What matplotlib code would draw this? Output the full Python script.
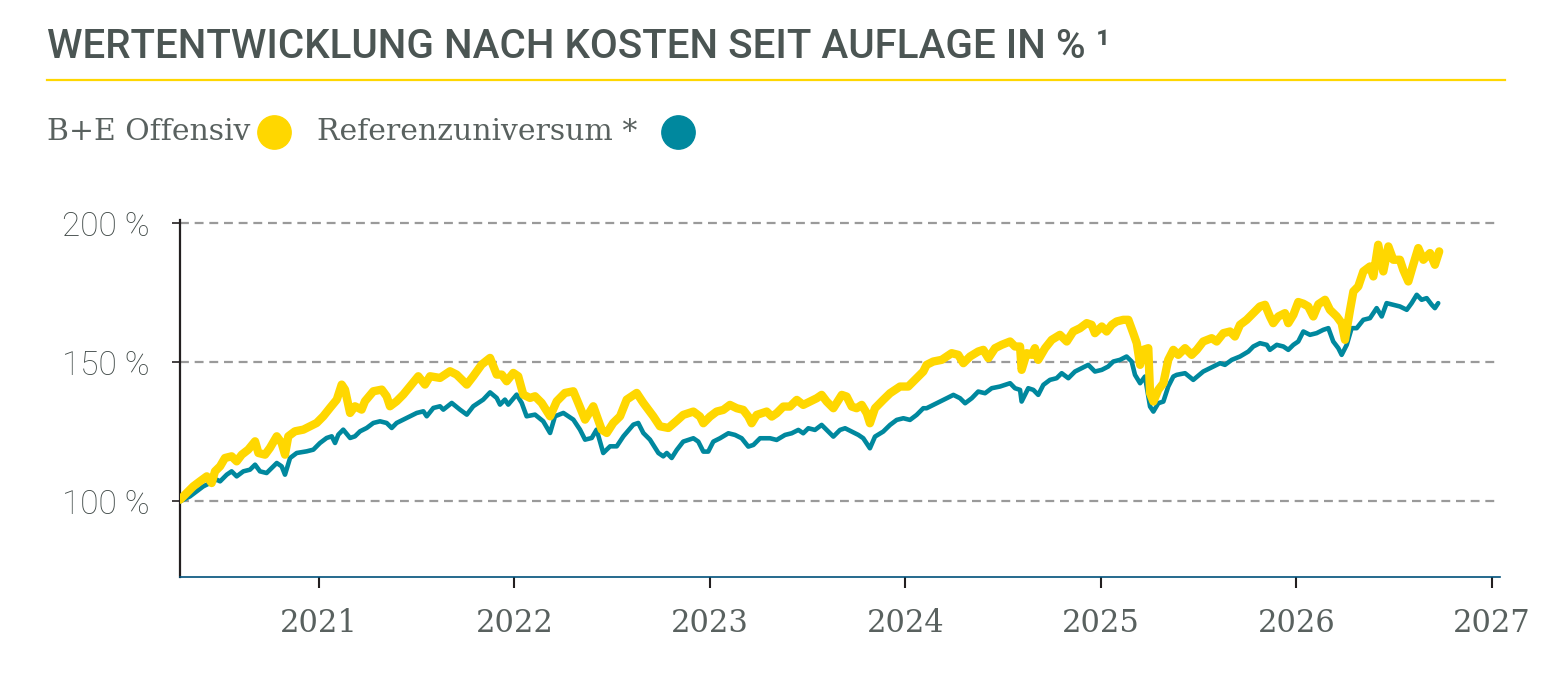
import matplotlib
matplotlib.use("Agg")
import matplotlib.pyplot as plt
from matplotlib.lines import Line2D

# ---------------------------------------------------------------------------
# Data (decimal years / index in %)
# ---------------------------------------------------------------------------

TITLE = "WERTENTWICKLUNG NACH KOSTEN SEIT AUFLAGE IN % \u00b9"
LABEL_BE = "B+E Offensiv"
LABEL_REF = "Referenzuniversum *"

YEARS_BE = [
    2020.289, 2020.323, 2020.357, 2020.391, 2020.426, 2020.451, 2020.468, 2020.494, 2020.519, 2020.553,
    2020.579, 2020.605, 2020.638, 2020.673, 2020.690, 2020.724, 2020.749, 2020.784, 2020.809, 2020.826,
    2020.843, 2020.877, 2020.920, 2020.954, 2020.988, 2021.022, 2021.056, 2021.091, 2021.116, 2021.133,
    2021.159, 2021.184, 2021.218, 2021.235, 2021.278, 2021.321, 2021.346, 2021.363, 2021.397, 2021.431,
    2021.466, 2021.508, 2021.542, 2021.568, 2021.619, 2021.670, 2021.704, 2021.756, 2021.789, 2021.832,
    2021.875, 2021.909, 2021.935, 2021.960, 2021.994, 2022.019, 2022.045, 2022.079, 2022.105, 2022.139,
    2022.182, 2022.216, 2022.258, 2022.301, 2022.326, 2022.361, 2022.403, 2022.446, 2022.472, 2022.505,
    2022.540, 2022.574, 2022.625, 2022.659, 2022.710, 2022.744, 2022.787, 2022.830, 2022.863, 2022.915,
    2022.949, 2022.966, 2023.000, 2023.034, 2023.068, 2023.102, 2023.137, 2023.170, 2023.196, 2023.213,
    2023.239, 2023.290, 2023.316, 2023.341, 2023.375, 2023.409, 2023.444, 2023.477, 2023.512, 2023.546,
    2023.571, 2023.597, 2023.631, 2023.674, 2023.699, 2023.725, 2023.750, 2023.776, 2023.802, 2023.818,
    2023.844, 2023.886, 2023.921, 2023.972, 2024.014, 2024.057, 2024.091, 2024.108, 2024.142, 2024.185,
    2024.211, 2024.236, 2024.270, 2024.296, 2024.330, 2024.372, 2024.398, 2024.424, 2024.458, 2024.492,
    2024.535, 2024.560, 2024.586, 2024.594, 2024.620, 2024.646, 2024.662, 2024.679, 2024.714, 2024.748,
    2024.790, 2024.825, 2024.858, 2024.893, 2024.927, 2024.952, 2024.969, 2025.004, 2025.029, 2025.055,
    2025.080, 2025.114, 2025.140, 2025.165, 2025.183, 2025.200, 2025.216, 2025.242, 2025.251, 2025.268,
    2025.293, 2025.319, 2025.344, 2025.370, 2025.395, 2025.430, 2025.464, 2025.490, 2025.523, 2025.566,
    2025.592, 2025.626, 2025.660, 2025.685, 2025.711, 2025.745, 2025.779, 2025.813, 2025.839, 2025.864,
    2025.881, 2025.907, 2025.941, 2025.958, 2025.984, 2026.009, 2026.035, 2026.060, 2026.086, 2026.112,
    2026.146, 2026.171, 2026.206, 2026.231, 2026.248, 2026.274, 2026.291, 2026.316, 2026.342, 2026.376,
    2026.393, 2026.418, 2026.444, 2026.470, 2026.495, 2026.529, 2026.546, 2026.572, 2026.597, 2026.623,
    2026.649, 2026.683, 2026.708, 2026.730,
]
VALUES_BE = [
    100.6, 103.0, 105.4, 107.2, 109.0, 106.6, 110.8, 112.6, 115.6, 116.2,
    114.4, 116.8, 118.6, 121.6, 117.4, 116.8, 119.2, 123.4, 121.0, 116.8,
    123.4, 125.2, 125.8, 127.0, 128.2, 130.6, 133.6, 136.6, 142.0, 140.2,
    131.8, 134.2, 133.0, 136.0, 139.6, 140.2, 137.8, 134.2, 136.0, 138.4,
    141.4, 145.0, 142.0, 145.0, 144.4, 146.8, 145.6, 142.0, 145.0, 149.2,
    151.6, 145.6, 145.6, 143.2, 146.2, 145.0, 138.4, 137.2, 137.8, 135.4,
    130.6, 136.0, 139.0, 139.6, 135.4, 129.4, 134.2, 125.8, 124.6, 128.2,
    130.6, 136.6, 139.0, 135.4, 130.6, 127.0, 126.4, 129.0, 131.1, 132.3,
    130.5, 128.1, 130.5, 132.3, 132.9, 134.7, 133.5, 132.9, 130.5, 128.1,
    131.1, 132.3, 130.5, 131.7, 134.1, 134.1, 136.5, 134.7, 135.9, 137.1,
    138.3, 135.9, 133.5, 138.3, 137.7, 134.1, 133.5, 134.7, 131.7, 128.1,
    133.5, 136.5, 138.9, 141.3, 141.3, 144.3, 146.7, 149.1, 150.3, 150.9,
    152.1, 153.3, 152.7, 149.7, 152.1, 153.9, 154.5, 151.5, 155.1, 156.3,
    157.5, 155.7, 155.7, 147.3, 153.3, 152.7, 155.1, 150.9, 155.1, 158.1,
    159.9, 157.5, 161.1, 162.3, 164.1, 163.5, 160.5, 162.9, 161.1, 163.5,
    164.7, 165.3, 165.3, 160.5, 156.9, 149.1, 154.5, 155.1, 138.9, 135.9,
    140.1, 142.5, 150.9, 154.5, 152.7, 155.1, 152.7, 154.5, 157.5, 158.7,
    157.5, 160.5, 161.1, 159.3, 163.5, 165.3, 167.7, 170.1, 170.7, 166.5,
    164.1, 166.5, 167.7, 164.1, 167.1, 171.7, 171.1, 170.1, 166.5, 170.9,
    172.5, 168.9, 166.5, 164.1, 158.1, 168.9, 175.5, 177.3, 182.7, 184.5,
    180.9, 192.3, 182.7, 191.7, 186.9, 186.9, 183.3, 179.1, 185.1, 191.1,
    186.9, 189.3, 185.1, 189.9,
]

YEARS_REF = [
    2020.289, 2020.340, 2020.374, 2020.408, 2020.442, 2020.477, 2020.494, 2020.528, 2020.553, 2020.579,
    2020.613, 2020.647, 2020.673, 2020.698, 2020.732, 2020.758, 2020.784, 2020.809, 2020.826, 2020.852,
    2020.886, 2020.937, 2020.971, 2021.005, 2021.039, 2021.065, 2021.082, 2021.099, 2021.124, 2021.159,
    2021.184, 2021.210, 2021.244, 2021.278, 2021.312, 2021.346, 2021.372, 2021.397, 2021.431, 2021.466,
    2021.500, 2021.534, 2021.551, 2021.585, 2021.619, 2021.636, 2021.679, 2021.721, 2021.756, 2021.789,
    2021.840, 2021.875, 2021.909, 2021.926, 2021.951, 2021.968, 2022.011, 2022.037, 2022.062, 2022.105,
    2022.147, 2022.182, 2022.207, 2022.250, 2022.301, 2022.335, 2022.361, 2022.395, 2022.420, 2022.454,
    2022.489, 2022.523, 2022.557, 2022.608, 2022.633, 2022.659, 2022.693, 2022.736, 2022.761, 2022.779,
    2022.804, 2022.830, 2022.863, 2022.915, 2022.940, 2022.966, 2022.991, 2023.017, 2023.051, 2023.094,
    2023.128, 2023.162, 2023.196, 2023.222, 2023.256, 2023.307, 2023.341, 2023.384, 2023.418, 2023.452,
    2023.477, 2023.503, 2023.537, 2023.571, 2023.597, 2023.631, 2023.665, 2023.691, 2023.725, 2023.759,
    2023.784, 2023.818, 2023.844, 2023.886, 2023.921, 2023.955, 2023.989, 2024.023, 2024.057, 2024.091,
    2024.108, 2024.160, 2024.211, 2024.245, 2024.279, 2024.305, 2024.339, 2024.372, 2024.407, 2024.441,
    2024.483, 2024.535, 2024.560, 2024.586, 2024.594, 2024.628, 2024.654, 2024.679, 2024.705, 2024.739,
    2024.773, 2024.799, 2024.833, 2024.867, 2024.901, 2024.935, 2024.969, 2025.004, 2025.037, 2025.063,
    2025.097, 2025.131, 2025.157, 2025.174, 2025.200, 2025.225, 2025.251, 2025.268, 2025.293, 2025.319,
    2025.344, 2025.370, 2025.387, 2025.430, 2025.472, 2025.523, 2025.574, 2025.609, 2025.634, 2025.669,
    2025.711, 2025.754, 2025.779, 2025.813, 2025.848, 2025.864, 2025.899, 2025.933, 2025.958, 2025.984,
    2026.009, 2026.035, 2026.069, 2026.103, 2026.137, 2026.163, 2026.188, 2026.214, 2026.231, 2026.257,
    2026.282, 2026.308, 2026.342, 2026.376, 2026.410, 2026.436, 2026.461, 2026.495, 2026.529, 2026.564,
    2026.589, 2026.615, 2026.640, 2026.666, 2026.692, 2026.708, 2026.725,
]
VALUES_REF = [
    100.0, 101.8, 103.6, 105.4, 106.6, 107.8, 107.2, 109.6, 110.8, 109.0,
    110.8, 111.4, 113.2, 110.8, 110.2, 112.0, 113.8, 112.6, 109.6, 115.6,
    117.4, 118.0, 118.6, 121.0, 122.8, 123.4, 121.0, 124.0, 125.8, 122.8,
    123.4, 125.2, 126.4, 128.2, 128.8, 128.2, 126.4, 128.2, 129.4, 130.6,
    131.8, 132.4, 130.6, 133.6, 134.2, 133.0, 135.4, 133.0, 131.2, 134.2,
    136.6, 139.2, 137.2, 134.8, 136.6, 134.8, 138.4, 135.4, 130.6, 131.2,
    128.8, 124.6, 130.6, 131.8, 129.4, 125.8, 122.2, 122.8, 125.8, 117.4,
    119.8, 119.8, 123.4, 127.6, 128.2, 124.6, 122.2, 117.4, 116.2, 117.4,
    115.6, 118.5, 121.5, 122.7, 121.5, 117.9, 117.9, 121.5, 122.7, 124.5,
    123.9, 122.7, 119.7, 120.3, 122.7, 122.7, 122.1, 123.9, 124.5, 125.7,
    124.5, 126.3, 125.7, 127.5, 125.7, 123.3, 125.7, 126.3, 125.1, 123.9,
    122.7, 119.1, 123.3, 125.1, 127.5, 129.3, 129.9, 129.3, 131.1, 133.5,
    133.5, 135.3, 137.1, 138.3, 137.1, 135.3, 137.1, 139.5, 138.9, 140.7,
    141.3, 142.5, 140.7, 140.1, 135.9, 140.7, 140.1, 138.3, 141.9, 143.7,
    144.3, 146.1, 144.3, 146.7, 147.9, 149.1, 146.7, 147.3, 148.5, 150.3,
    150.9, 152.1, 150.3, 145.5, 142.5, 144.9, 134.1, 132.3, 135.3, 135.9,
    141.3, 144.9, 145.5, 146.1, 143.7, 146.7, 148.5, 149.7, 149.1, 150.9,
    152.1, 153.9, 155.7, 156.9, 156.3, 154.5, 156.3, 155.7, 154.5, 156.3,
    157.5, 161.1, 159.9, 160.5, 161.7, 162.3, 157.5, 155.1, 152.7, 156.3,
    162.3, 162.3, 165.3, 165.9, 169.5, 166.5, 171.3, 170.7, 170.1, 168.9,
    171.3, 174.3, 172.5, 173.1, 170.7, 169.5, 171.3,
]

Y_TICKS = [100, 150, 200]
Y_TICK_LABELS = ["100 %", "150 %", "200 %"]
X_TICKS = [2021, 2022, 2023, 2024, 2025, 2026, 2027]

# ---------------------------------------------------------------------------
# Style
# ---------------------------------------------------------------------------

W, H = 1560, 680
YELLOW = "#FFD700"
TEAL = "#00889E"
TEXT_GREY = "#4B5553"
LABEL_GREY = "#59615F"
GRID_GREY = "#9A9A9A"

fig = plt.figure(figsize=(W / 100, H / 100), dpi=100)
fig.patch.set_facecolor("white")
renderer = fig.canvas.get_renderer()

# title + yellow rule
title = fig.text(47 / W, 1 - 58 / H, TITLE, family="Roboto", weight="medium",
                 fontsize=30, color=TEXT_GREY, va="baseline", ha="left")
bb = title.get_window_extent(renderer)
title.set_fontsize(30 * (1063 / bb.width))
fig.add_artist(Line2D([47 / W, 1505 / W], [1 - 80 / H, 1 - 80 / H],
                      transform=fig.transFigure, color=YELLOW, lw=1.6))

# legend (manual): label text + round swatch
leg_y = 1 - 132 / H
for label, color, text_px, dot_px in [(LABEL_BE, YELLOW, 47, 274),
                                      (LABEL_REF, TEAL, 317, 678)]:
    fig.text(text_px / W, leg_y, label, family="DejaVu Serif", fontsize=21.5,
             color=LABEL_GREY, va="center", ha="left")
    fig.add_artist(Line2D([dot_px / W], [leg_y], transform=fig.transFigure,
                          marker="o", ms=24, color=color, lw=0))

# ---------------------------------------------------------------------------
# Plot
# ---------------------------------------------------------------------------

ax = fig.add_axes([180 / W, 1 - 577 / H, 1320 / W, (577 - 220) / H])
ax.plot(YEARS_REF, VALUES_REF, color=TEAL, lw=3.3, solid_joinstyle="round",
        solid_capstyle="round", zorder=3)
ax.plot(YEARS_BE, VALUES_BE, color=YELLOW, lw=6.0, solid_joinstyle="round",
        solid_capstyle="round", zorder=4)

ax.set_xlim(2020.289, 2027.041)
ax.set_ylim(72.8, 201.2)

for y in Y_TICKS:
    ax.axhline(y, color=GRID_GREY, lw=1.6, ls=(0, (4, 2.6)), zorder=1)

ax.set_yticks(Y_TICKS)
ax.set_yticklabels(Y_TICK_LABELS, family="Roboto", weight="light", fontsize=24,
                   color="#3F4846")
ax.set_xticks(X_TICKS)
ax.set_xticklabels([str(x) for x in X_TICKS], family="DejaVu Serif", fontsize=22,
                   color=LABEL_GREY)
ax.tick_params(axis="y", length=6, width=1.2, color="#231F20", pad=16)
ax.tick_params(axis="x", length=8, width=1.5, color="#231F20", pad=14)

for side in ["top", "right"]:
    ax.spines[side].set_visible(False)
ax.spines["left"].set_color("#231F20")
ax.spines["left"].set_linewidth(1.6)
ax.spines["bottom"].set_color("#00507A")
ax.spines["bottom"].set_linewidth(1.2)

fig.savefig("out.png", dpi=100)
